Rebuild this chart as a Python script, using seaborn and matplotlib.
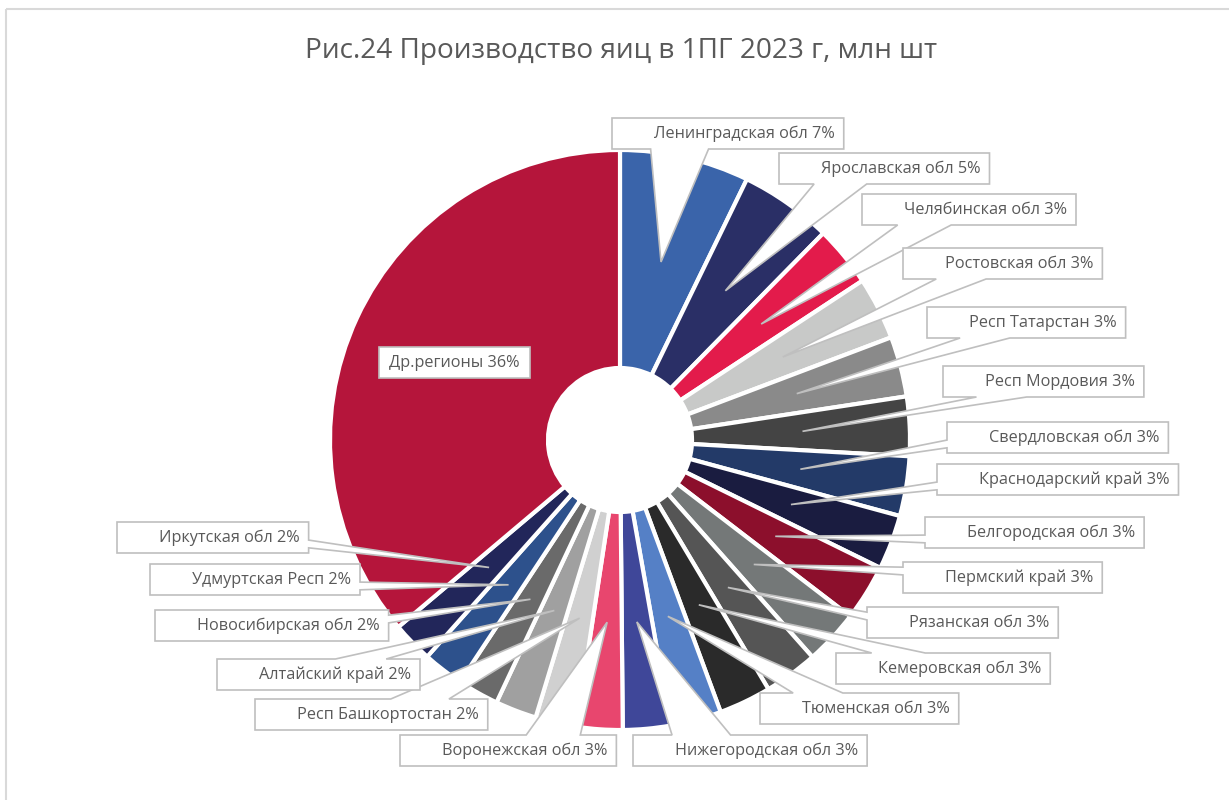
import numpy as np
import matplotlib
matplotlib.use("Agg")
import matplotlib.pyplot as plt
import seaborn as sns
from matplotlib.patches import Polygon, Rectangle

# ---------------- data (million eggs, 1H 2023) ----------------
regions = ["Ленинградская обл", "Ярославская обл", "Челябинская обл", "Ростовская обл",
           "Респ Татарстан", "Респ Мордовия", "Свердловская обл", "Краснодарский край",
           "Белгородская обл", "Пермский край", "Рязанская обл", "Кемеровская обл",
           "Тюменская обл", "Нижегородская обл", "Воронежская обл", "Респ Башкортостан",
           "Алтайский край", "Новосибирская обл", "Удмуртская Респ", "Иркутская обл",
           "Др.регионы"]
values = [1300, 930, 610, 630, 605, 595, 600, 550, 565, 550, 540, 525, 515, 475,
          460, 415, 415, 415, 410, 410, 6520]
title = "Рис.24 Производство яиц в 1ПГ 2023 г, млн шт"

# ---------------- styles ----------------
colors = ["#3A64AA", "#2A2F66", "#E31B4B", "#C8C9C8", "#8A8A8A", "#444444", "#233A68",
          "#1A1C40", "#8C0F2C", "#747878", "#555555", "#2A2A2A", "#5580C6", "#3F4799",
          "#E8466E", "#D0D0D0", "#A0A0A0", "#6A6A6A", "#2D518C", "#22265A", "#B5153B"]

# label box layout (left, top) in pixels; last one (inside label) is centered
box_pos = [(612, 118), (779, 153), (862, 194), (903, 248), (927, 307), (943, 366),
           (947, 422), (937, 464), (925, 517), (903, 562), (867, 607), (836, 653),
           (760, 693), (633, 735), (400, 735), (255, 699), (217, 659), (155, 610),
           (150, 564), (117, 522), None]

sns.set_theme(style="white")
plt.rcParams["font.family"] = ["Open Sans", "DejaVu Sans"]

W, H = 1229, 800
fig = plt.figure(figsize=(W / 100, H / 100), dpi=100)
fig.patch.set_facecolor("white")

cx, cy, R, Rin = 620, 440, 290, 72
pad = 300
axp = fig.add_axes([(cx - pad) / W, (H - cy - pad) / H, 2 * pad / W, 2 * pad / H])
wedges, _ = axp.pie(values, colors=colors, startangle=90, counterclock=False, radius=1,
                    wedgeprops=dict(width=1 - Rin / R, edgecolor="white", linewidth=3))
axp.set_xlim(-pad / R, pad / R)
axp.set_ylim(-pad / R, pad / R)
axp.axis("off")

ov = fig.add_axes([0, 0, 1, 1])
ov.set_xlim(0, W)
ov.set_ylim(H, 0)
ov.axis("off")
ov.set_facecolor("none")

# outer chart-area frame
ov.add_patch(Rectangle((6, 9), 1240, 800, fill=False, ec="#D9D9D9", lw=1.5, zorder=1))

ov.text(621, 51, title, ha="center", va="center", fontsize=20.2, color="#595959", zorder=5)

renderer = fig.canvas.get_renderer()
total = float(sum(values))
txtcol = "#595959"
edgecol = "#BFBFBF"
fs = 11.7
bh = 31


def to_px(xy):
    disp = axp.transData.transform(xy)
    return ov.transData.inverted().transform(disp)


def callout_points(x0, y0, w, h, tx, ty):
    cxb, cyb = x0 + w / 2, y0 + h / 2
    dx, dy = tx - cxb, ty - cyb
    if abs(dx) / w > abs(dy) / h:
        side = "left" if dx < 0 else "right"
    else:
        side = "top" if dy < 0 else "bottom"
    xg = (7, 10) if dx > 0 else (2, 5)
    yg = (7, 10) if dy > 0 else (2, 5)
    x1, x2 = x0 + w * xg[0] / 12, x0 + w * xg[1] / 12
    y1, y2 = y0 + h * yg[0] / 12, y0 + h * yg[1] / 12
    pts = [(x0, y0)]
    if side == "top":
        pts += [(x1, y0), (tx, ty), (x2, y0)]
    pts.append((x0 + w, y0))
    if side == "right":
        pts += [(x0 + w, y1), (tx, ty), (x0 + w, y2)]
    pts.append((x0 + w, y0 + h))
    if side == "bottom":
        pts += [(x2, y0 + h), (tx, ty), (x1, y0 + h)]
    pts.append((x0, y0 + h))
    if side == "left":
        pts += [(x0, y2), (tx, ty), (x0, y1)]
    return pts


z = 10
for i, (wd, name, v) in enumerate(zip(wedges, regions, values)):
    mid = np.deg2rad((wd.theta1 + wd.theta2) / 2)
    tx, ty = to_px((0.63 * np.cos(mid), 0.63 * np.sin(mid)))
    pct = int(v / total * 100 + 0.5)
    label = f"{name} {pct}%"
    bp = box_pos[i]
    if bp is None:
        t = ov.text(tx, ty, label, ha="center", va="center", fontsize=fs, color=txtcol, zorder=z + 1)
        ext = t.get_window_extent(renderer)
        w = ext.width + 20
        ov.add_patch(Rectangle((tx - w / 2, ty - bh / 2), w, bh, fc="white", ec=edgecol,
                               lw=1.2, zorder=z))
    else:
        x0, y0 = bp
        t = ov.text(x0 + 42, y0 + bh / 2 + 0.5, label, ha="left", va="center", fontsize=fs,
                    color=txtcol, zorder=z + 1)
        ext = t.get_window_extent(renderer)
        w = 42 + ext.width + 9
        pts = callout_points(x0, y0, w, bh, tx, ty)
        ov.add_patch(Polygon(pts, closed=True, fc="white", ec=edgecol, lw=1.2,
                             joinstyle="miter", zorder=z))
    z += 2

fig.savefig("out.png", dpi=100, facecolor="white")
